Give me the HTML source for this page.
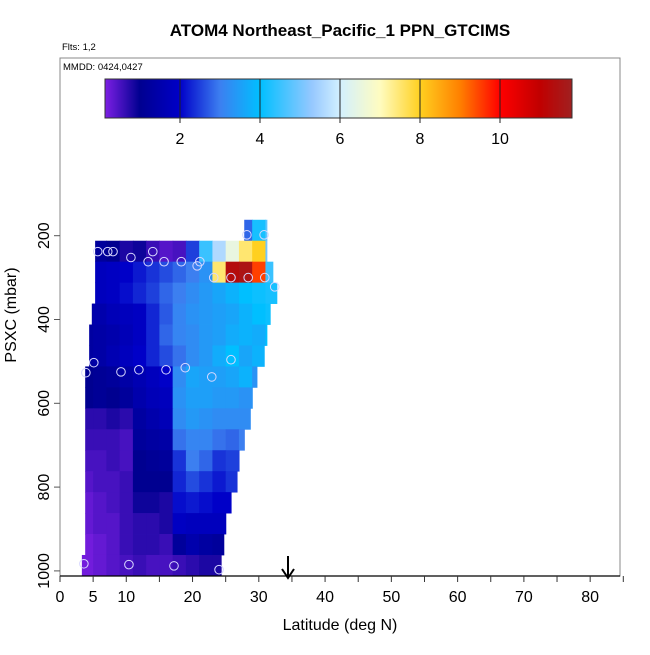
<!DOCTYPE html>
<html><head><meta charset="utf-8"><style>
body{margin:0;background:#fff;}
svg text{font-family:"Liberation Sans",sans-serif;}
</style></head><body>
<svg id="c" width="650" height="650" viewBox="0 0 650 650" xmlns="http://www.w3.org/2000/svg">
<text x="340" y="36" text-anchor="middle" font-size="17" font-weight="bold">ATOM4 Northeast_Pacific_1 PPN_GTCIMS</text>
<text x="62" y="50" font-size="9.5">Flts: 1,2</text>
<rect x="60" y="58" width="560" height="518" fill="none" stroke="#888" stroke-width="1"/>
<text x="63" y="70" font-size="9.5">MMDD: 0424,0427</text>
<g id="cbar"></g>
<g id="heat"></g>
<g id="pts"></g>
<g id="axes"></g>
<line x1="288" y1="556" x2="288" y2="576" stroke="#000" stroke-width="2"/>
<path d="M282,569 L288,578 L294,569" fill="none" stroke="#000" stroke-width="2"/>
<text x="340" y="630" text-anchor="middle" font-size="16">Latitude (deg N)</text>
<text transform="translate(16,315) rotate(-90)" text-anchor="middle" font-size="16">PSXC (mbar)</text>
</svg>
<script>
// ---- data ----
const rowPressures=[187,237,287,337,387,437,487,537,587,637,687,737,787,837,887,937,987];
const rowLatStart=[27.8,5.3,5.3,5.3,4.8,4.4,4.4,3.8,3.8,3.8,3.8,3.8,3.8,3.8,3.8,3.8,3.3];
const rowLatEnd=[31.2,31.2,32.1,32.7,31.7,31.2,30.8,29.7,29.3,28.7,27.8,27.2,26.7,25.8,25.2,24.7,24.3];
const colLatCenters=[4,6,8,10,12,14,16,18,20,22,24,26,28,30,32,34];
const rowValues=[
[null,null,null,null,null,null,null,null,null,null,null,null,2.8,4.2,4.8,null],
[null,1.2,1.0,0.8,0.9,0.6,0.4,0.5,2.5,4.5,5.6,6.5,7.5,8.0,5.0,null],
[null,1.8,1.9,2.0,2.2,2.4,2.6,2.8,3.0,3.3,7.5,11.3,11.5,9.5,4.5,null],
[null,1.8,1.9,2.1,2.3,2.5,2.8,3.0,3.2,3.4,3.6,3.8,4.0,4.1,4.2,4.2],
[1.4,1.5,1.7,1.8,1.9,2.3,2.7,3.1,3.3,3.4,3.5,3.6,3.8,4.0,4.1,null],
[1.3,1.4,1.5,1.7,1.9,2.3,2.8,3.1,3.2,3.4,3.5,3.7,3.8,3.7,4.0,null],
[1.3,1.4,1.6,1.8,2.0,2.3,2.6,2.9,3.2,3.4,3.7,4.0,3.6,3.8,null,null],
[1.0,1.1,1.2,1.4,1.6,1.8,2.0,3.2,3.6,3.5,3.5,3.6,3.8,3.3,null,null],
[1.0,1.1,1.0,1.2,1.5,1.7,1.8,3.3,3.5,3.5,3.4,3.4,3.3,null,null,null],
[0.7,0.7,0.8,0.7,1.3,1.5,1.7,3.2,3.4,3.3,3.2,3.2,3.2,null,null,null],
[0.6,0.6,0.6,0.5,1.2,1.3,1.4,2.9,3.1,3.1,2.9,2.8,3.0,null,null,null],
[0.5,0.5,0.6,0.5,1.0,1.1,1.2,2.4,3.0,2.8,2.4,2.5,null,null,null,null],
[0.4,0.5,0.5,0.6,1.0,1.0,1.0,2.3,2.6,2.4,2.2,2.4,null,null,null,null],
[0.3,0.4,0.5,0.6,0.9,0.9,0.8,2.1,2.2,2.1,2.0,2.0,null,null,null,null],
[0.3,0.4,0.4,0.6,0.7,0.7,0.8,1.9,1.8,1.8,1.8,null,null,null,null,null],
[0.2,0.3,0.4,0.6,0.7,0.7,0.6,1.2,1.5,1.3,1.2,null,null,null,null,null],
[0.2,0.3,0.4,0.5,0.6,0.5,0.5,0.6,0.7,0.8,0.8,null,null,null,null,null]
];
const pointLats=[28.2,30.8,5.7,7.2,8.0,10.7,14.0,13.3,15.7,18.3,21.1,20.7,23.2,25.8,28.4,30.9,32.4,5.1,3.9,9.2,11.9,16.0,18.9,22.9,25.8,3.6,10.4,17.2,24.0];
const pointPressures=[198,198,238,238,238,252,238,262,262,262,262,272,300,300,300,300,322,503,527,525,520,520,515,537,496,983,985,988,997];
const xTickValues=[0,5,10,15,20,25,30,35,40,45,50,55,60,65,70,75,80,85];
const xTickLabels=["0","5","10","","20","","30","","40","","50","","60","","70","","80",""];
const yTickValues=[200,400,600,800,1000];
const cbarTickValues=[2,4,6,8,10];
// ---- scales ----
const X=lat=>60+lat*6.627;
const Y=p=>235.7+(p-200)*0.419;
const CB=v=>100+v*40;
const stops=[[0.1,[128,32,230]],[1,[0,0,144]],[2,[0,0,200]],[3,[60,127,240]],[4,[0,191,255]],[5.3,[150,200,255]],[6,[210,240,255]],[7,[255,252,192]],[8,[255,208,32]],[9,[255,128,0]],[10,[255,0,0]],[11,[192,0,0]],[11.8,[160,32,32]]];
function col(v){
  if(v<=stops[0][0])return `rgb(${stops[0][1]})`;
  for(let i=1;i<stops.length;i++){if(v<=stops[i][0]){const a=stops[i-1],b=stops[i],t=(v-a[0])/(b[0]-a[0]);
    const c=a[1].map((q,k)=>Math.round(q+(b[1][k]-q)*t));return `rgb(${c})`;}}
  return `rgb(${stops[stops.length-1][1]})`;
}
const NS="http://www.w3.org/2000/svg";
function mk(tag,attrs,parent){const e=document.createElementNS(NS,tag);for(const k in attrs)e.setAttribute(k,attrs[k]);parent.appendChild(e);return e;}
// colorbar
const cb=document.getElementById('cbar');
for(let x=105;x<572;x++){
  const r=mk('rect',{x:x,y:79,width:1.2,height:39,fill:col((x+0.5-100)/40)},cb);
  
  
}
const cbf=mk('rect',{x:105,y:79,width:467,height:39,fill:'none',stroke:'#333','stroke-width':1},cb);


cbarTickValues.forEach(v=>{
  const l=mk('line',{x1:CB(v),x2:CB(v),y1:79,y2:123,stroke:'#222','stroke-width':1},cb);
  
  
  const t=mk('text',{x:CB(v),y:144,'text-anchor':'middle','font-size':16},cb);t.textContent=v;
  
  
});
// heatmap
const hm=document.getElementById('heat');
rowPressures.forEach((p,r)=>{
  const y0=Y(p-25),y1=Y(p+25);
  colLatCenters.forEach((c,i)=>{
    const v=rowValues[r][i];if(v==null)return;
    const a=Math.max(c-1,rowLatStart[r]),b=Math.min(c+1,rowLatEnd[r]);if(b<=a)return;
    const e=mk('rect',{x:X(a),y:y0,width:X(b)-X(a)+0.6,height:y1-y0+0.4,fill:col(v)},hm);
    
    
  });
});
// points
const pg=document.getElementById('pts');
pointLats.forEach((lat,i)=>{
  const e=mk('circle',{cx:X(lat),cy:Y(pointPressures[i]),r:4.3,fill:'none',stroke:'#d8d8ff','stroke-width':1},pg);
  
  
});
// axes
const ax=document.getElementById('axes');
const xl=mk('line',{x1:60,x2:620,y1:576,y2:576,stroke:'#000','stroke-width':1.2},ax);


xTickValues.forEach((v,i)=>{
  const t=mk('line',{x1:X(v),x2:X(v),y1:576,y2:582,stroke:'#333'},ax);
  
  
  if(xTickLabels[i]){const s=mk('text',{x:X(v),y:602,'text-anchor':'middle','font-size':16},ax);s.textContent=xTickLabels[i];
    
    }
});
yTickValues.forEach(v=>{
  const t=mk('line',{x1:54,x2:60,y1:Y(v),y2:Y(v),stroke:'#555'},ax);
  
  
  const s=mk('text',{transform:`translate(49,${Y(v)}) rotate(-90)`,'text-anchor':'middle','font-size':16},ax);s.textContent=v;
  
  
});
</script>
</body></html>
